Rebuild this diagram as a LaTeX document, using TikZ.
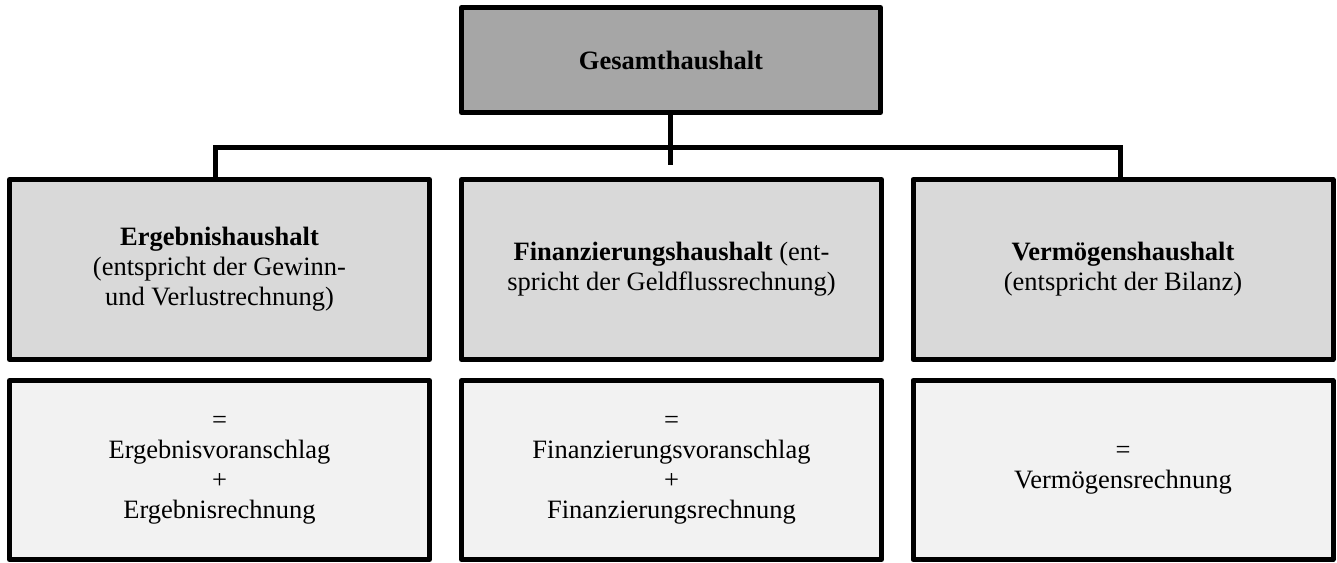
\documentclass[tikz,border=0pt]{standalone}
\usepackage{fontspec}
\setmainfont{Liberation Serif}
\begin{document}
\begin{tikzpicture}[x=0.5pt,y=-0.5pt,
  boxbase/.style={draw=black, line width=2.5pt, rectangle, inner sep=0pt, outer sep=0pt,
    align=center, line join=round, font=\fontsize{13.25}{15}\selectfont},
  topbox/.style={boxbase, fill=topgray, minimum width=209.5pt, minimum height=52.5pt},
  midbox/.style={boxbase, fill=midgray, minimum width=210pt, minimum height=90pt},
  lowbox/.style={boxbase, fill=lowgray, minimum width=210pt, minimum height=89.5pt},
  conn/.style={draw=black, line width=2.5pt, line join=miter, line cap=rect}]
\definecolor{topgray}{HTML}{A6A6A6}
\definecolor{midgray}{HTML}{D9D9D9}
\definecolor{lowgray}{HTML}{F2F2F2}
\useasboundingbox (0,0) rectangle (1337,562);

% nodes
\node[topbox] (top) at (671,60) {\textbf{Gesamthaushalt}};
\node[midbox] (ergeb) at (219.5,269.5) {\textbf{Ergebnishaushalt}\\(entspricht der Gewinn-\\und Verlustrechnung)};
\node[midbox] (finanz) at (671.5,269.5) {\textbf{Finanzierungshaushalt} (ent-\\spricht der Geldflussrechnung)};
\node[midbox] (verm) at (1123,269.5) {\textbf{Vermögenshaushalt}\\(entspricht der Bilanz)};
\node[lowbox] (ergebr) at (219.5,470) {=\\Ergebnisvoranschlag\\+\\Ergebnisrechnung};
\node[lowbox] (finanzr) at (671.5,470) {=\\Finanzierungsvoranschlag\\+\\Finanzierungsrechnung};
\node[lowbox] (vermr) at (1123,470) {=\\Vermögensrechnung};

% connectors
\coordinate (ld) at (215.5,147);
\coordinate (rd) at (1120.5,147);
\coordinate (mstub) at (670.5,165);
\begin{scope}[on background layer/.style={}]
\draw[conn] (ld |- ergeb.north) -- (ld) -- (rd) -- (rd |- verm.north);
\draw[conn, line cap=butt] (top.south -| mstub) -- (mstub);
\end{scope}
\end{tikzpicture}
\end{document}
